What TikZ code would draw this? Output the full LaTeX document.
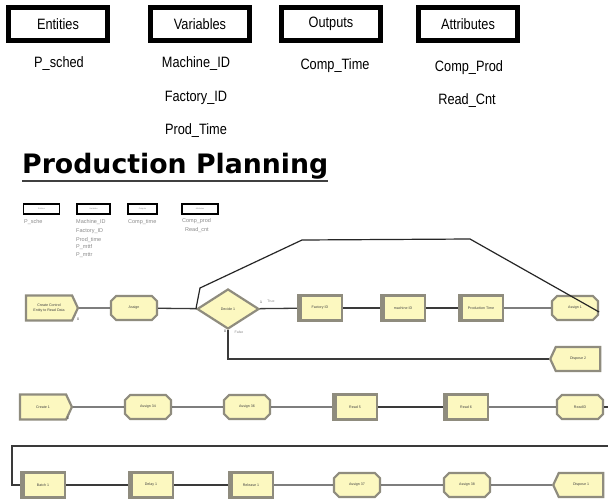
\documentclass[tikz,border=0pt]{standalone}
\usepackage{fontspec}
\setmainfont{Liberation Sans}
\newfontfamily\narrowsans[FakeStretch=0.85]{Liberation Sans}
\newfontfamily\heavysans{DejaVu Sans}
\usetikzlibrary{shapes.geometric,shapes.misc,shapes.symbols}

\definecolor{modfill}{HTML}{FCF8C0}
\definecolor{modedge}{HTML}{8F8C7E}
\definecolor{wire}{HTML}{3A3A3A}
\definecolor{faint}{HTML}{8A8A8A}

\tikzset{
  keybox/.style={draw=black, line width=5pt, minimum width=99pt, minimum height=33pt,
    inner sep=0pt, font=\narrowsans\fontsize{15}{17}\selectfont},
  keyitem/.style={font=\narrowsans\fontsize{15}{17}\selectfont, inner sep=0pt},
  minibox/.style={draw=black, line width=1.4pt, minimum height=10pt, inner sep=0pt,
    font=\fontsize{2}{2.5}\selectfont, text=faint},
  miniitem/.style={anchor=west, inner sep=0pt, font=\fontsize{5.5}{6}\selectfont, text=faint},
  mod/.style={fill=modfill, draw=modedge, line width=2.2pt, inner sep=0pt,
    font=\fontsize{3.6}{4.2}\selectfont, text=black!75, align=center},
  procmod/.style={mod, rectangle, minimum width=44pt, minimum height=25pt,
    path picture={\fill[modedge] (path picture bounding box.north west)
      rectangle ([xshift=3.5pt]path picture bounding box.south west);}},
  assignmod/.style={mod, chamfered rectangle, chamfered rectangle xsep=3.5pt,
    chamfered rectangle ysep=3.5pt, minimum width=46pt, minimum height=24pt},
  createmod/.style={mod, signal, signal to=east, signal pointer angle=130,
    minimum width=52pt, minimum height=25pt},
  disposemod/.style={mod, signal, signal to=west, signal pointer angle=130,
    minimum width=50pt, minimum height=24pt},
  decidemod/.style={mod, diamond, minimum width=62pt, minimum height=40pt},
  link/.style={draw=wire, line width=1.3pt},
  portnum/.style={inner sep=0pt, font=\fontsize{3.5}{4}\selectfont, text=black!80},
  porttag/.style={inner sep=0pt, font=\fontsize{3.5}{4}\selectfont, text=faint},
}

\begin{document}
\begin{tikzpicture}[x=1pt, y=-1pt]
\useasboundingbox (0,0) rectangle (608,501);
\fill[white] (0,0) rectangle (608,501);
\clip (0,0) rectangle (608,501);

% ---- key boxes and their entries
\node[keybox] (kEnt) at (58,24) {Entities};
\node[keybox] (kVar) at (200,24) {Variables};
\node[keybox] (kOut) at (331,24) {Outputs};
\node[keybox] (kAtt) at (468,24) {Attributes};

\node[keyitem] (iPs)  at (59,64)  {P\_sched};
\node[keyitem] (iMid) at (196,64) {Machine\_ID};
\node[keyitem] (iFid) at (196,98) {Factory\_ID};
\node[keyitem] (iPt)  at (196,131){Prod\_Time};
\node[keyitem] (iCt)  at (335,66) {Comp\_Time};
\node[keyitem] (iCp)  at (469,68) {Comp\_Prod};
\node[keyitem] (iRc)  at (467,101){Read\_Cnt};

% ---- title
\node[inner sep=0pt, anchor=base west] (title) at (22,173)
  {\resizebox{306pt}{!}{\heavysans\fontsize{25}{28}\selectfont\bfseries Production Planning}};
\draw[draw=black!75, line width=1.6pt] (22,181) -- (328,181);

% ---- small legend of the model
\node[minibox, minimum width=36pt] (mEnt) at (41.5,209) {Entities};
\node[minibox, minimum width=33pt] (mVar) at (93.5,209) {Variables};
\node[minibox, minimum width=29pt] (mOut) at (142.5,209) {Outputs};
\node[minibox, minimum width=36pt] (mAtt) at (200,209) {Attributes};
\node[miniitem] (sPs) at (24,222) {P\_sche};
\node[miniitem] (sMi) at (76,222) {Machine\_ID};
\node[miniitem] (sFi) at (76,231) {Factory\_ID};
\node[miniitem] (sPt) at (76,240) {Prod\_time};
\node[miniitem] (sMf) at (76,247) {P\_mttf};
\node[miniitem] (sMr) at (76,255) {P\_mttr};
\node[miniitem] (sCt) at (128,222) {Comp\_time};
\node[miniitem] (sCp) at (182,221) {Comp\_prod};
\node[miniitem] (sRc) at (185,230) {Read\_cnt};

% ---- first line of modules
\node[createmod] (cc) at (49,308) {Create Control\\Entity to Read Data};
\node[assignmod] (as0) at (134,308) {Assign};
\node[decidemod] (dec) at (228,309) {Decide 1};
\node[procmod] (fid) at (320,308) {Factory ID};
\node[procmod] (mid) at (403,308) {machine ID};
\node[procmod] (ptm) at (481,308) {Production Time};
\node[assignmod] (as1) at (575,308) {Assign 1};
\node[disposemod] (dp2) at (578,359) {Dispose 2};

\node[portnum] at (78,319) {0};
\node[portnum] at (261,302) {1};
\node[porttag] at (271,301) {True};
\node[portnum] at (225,331) {0};
\node[porttag] at (239,332) {False};

\draw[link] (cc) -- (as0);
\draw[link] (as0) -- (dec);
\draw[link] (dec) -- (fid);
\draw[link] (fid) -- (mid);
\draw[link] (mid) -- (ptm);
\draw[link] (ptm) -- (as1);
\draw[link] (dec.south) |- (dp2.west);

\coordinate (r1) at (470,239);
\coordinate (r2) at (302,240);
\coordinate (r3) at (200,288);
\draw[draw=black!85, line width=1.2pt] ([yshift=-4pt]as1.east) -- (r1) -- (r2) -- (r3) -- (dec.west);

% ---- second line of modules
\node[createmod] (c1) at (43,407) {Create 1};
\node[assignmod] (a34) at (148,407) {Assign 34};
\node[assignmod] (a36) at (247,407) {Assign 36};
\node[procmod] (rd5) at (355,407) {Read 5};
\node[procmod] (rd6) at (466,407) {Read 6};
\node[assignmod] (rid) at (580,407) {ReadID};
\node[portnum] at (68,418) {0};

\draw[link] (c1) -- (a34);
\draw[link] (a34) -- (a36);
\draw[link] (a36) -- (rd5);
\draw[link] (rd5) -- (rd6);
\draw[link] (rd6) -- (rid);

% ---- third line of modules
\node[procmod] (bt1) at (43,485) {Batch 1};
\node[procmod] (dl1) at (151,485) {Delay 1};
\node[procmod] (rl1) at (251,485) {Release 1};
\node[assignmod] (a37) at (357,485) {Assign 37};
\node[assignmod] (a38) at (467,485) {Assign 38};
\node[disposemod] (dp1) at (581,485) {Dispose 1};

\draw[link] (rid.east) -- (614,407) -- (614,446) -- (12,446) |- (bt1.west);
\draw[link] (bt1) -- (dl1);
\draw[link] (dl1) -- (rl1);
\draw[link] (rl1) -- (a37);
\draw[link] (a37) -- (a38);
\draw[link] (a38) -- (dp1);
\end{tikzpicture}
\end{document}
